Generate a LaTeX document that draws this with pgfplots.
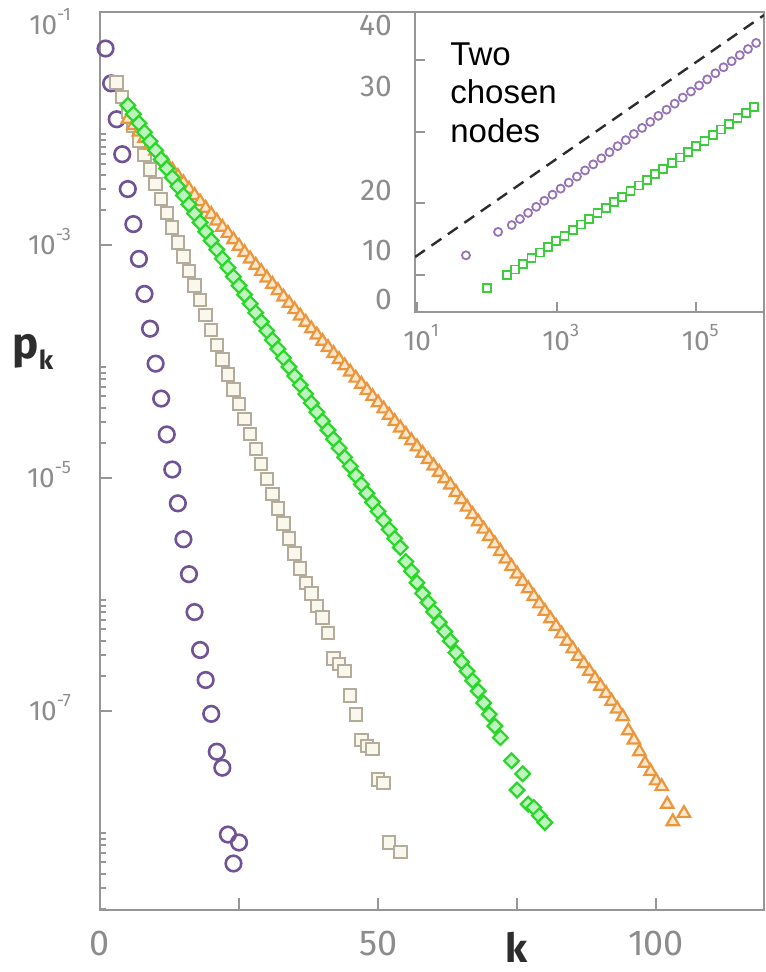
\documentclass[border=0pt]{standalone}
\usepackage{pgfplots}
\pgfplotsset{compat=1.18}
\usepackage{fontspec}
\setmainfont{Liberation Sans}
\newfontfamily\tickfont{Fira Sans}
\definecolor{axgray}{RGB}{150,150,150}
\definecolor{lblgray}{RGB}{140,140,140}
\definecolor{labdark}{RGB}{45,45,45}
\definecolor{cpurple}{RGB}{112,82,150}
\definecolor{ctan}{RGB}{180,172,155}
\definecolor{ctanfill}{RGB}{250,248,236}
\definecolor{cgreen}{RGB}{40,215,40}
\definecolor{cgreenfill}{RGB}{190,245,190}
\definecolor{corange}{RGB}{235,150,60}
\definecolor{corangefill}{RGB}{252,232,205}
\definecolor{ipurple}{RGB}{150,115,180}
\definecolor{igreen}{RGB}{60,205,60}
\newcommand\tsup[1]{\raisebox{0.5em}{\fontsize{9}{9}\selectfont #1}}
\begin{document}
\begin{tikzpicture}
\path[use as bounding box] (0,0) rectangle (382.5pt,486pt);
% ---------------- main axis ----------------
\begin{axis}[
  at={(50pt,31pt)}, anchor=south west, scale only axis,
  width=332pt, height=449pt,
  xmin=0, xmax=119.4, ymode=log, ymin=1.95e-9, ymax=0.1,
  clip=false,
  axis line style={axgray, line width=1.2pt},
  tick style={axgray, line width=1pt},
  major tick length=6pt, minor tick length=3pt,
  xtick pos=bottom, ytick pos=left,
  xtick={0,25,50,75,100}, xticklabels={0,,50,,100},
  ytick={1e-7,1e-5,1e-3},
  yticklabels={10\tsup{-7},10\tsup{-5},10\tsup{-3}},
  extra y ticks={0.1}, extra y tick labels={10\tsup{-1}},
  extra y tick style={yticklabel style={yshift=-6.5pt}},
  minor ytick={2e-9,3e-9,4e-9,5e-9,6e-9,7e-9,8e-9,9e-9,
    2e-7,3e-7,4e-7,5e-7,6e-7,7e-7,8e-7,9e-7,
    2e-5,3e-5,4e-5,5e-5,6e-5,7e-5,8e-5,9e-5,
    2e-3,3e-3,4e-3,5e-3,6e-3,7e-3,8e-3,9e-3},
  yticklabel style={font=\tickfont\fontsize{14}{16}\selectfont, text=lblgray, xshift=-11pt, yshift=1.5pt},
  xticklabel style={font=\tickfont\fontsize{18}{20}\selectfont, text=lblgray, yshift=-7pt},
]
\addplot[only marks, mark=o, cpurple, mark size=3.9pt, line width=1.3pt] coordinates {
(1,4.86e-2)(2,2.44e-2)(3,1.20e-2)(4,6.01e-3)(5,3.02e-3)(6,1.51e-3)(7,7.59e-4)(8,3.80e-4)(9,1.91e-4)(10,9.57e-5)(11,4.80e-5)(12,2.36e-5)(13,1.18e-5)(14,6.05e-6)(15,2.97e-6)(16,1.49e-6)(17,7.05e-7)(18,3.33e-7)(19,1.84e-7)(20,9.42e-8)(21,4.46e-8)(22,3.25e-8)(23,8.67e-9)(24,4.89e-9)(25,7.41e-9)};
\addplot[only marks, mark=square*, ctan, mark size=3.1pt, line width=1pt, mark options={fill=ctanfill}] coordinates {
(3,2.48e-2)(4,1.86e-2)(5,1.40e-2)(6,1.05e-2)(7,7.87e-3)(8,5.90e-3)(9,4.43e-3)(10,3.33e-3)(11,2.49e-3)(12,1.87e-3)(13,1.41e-3)(14,1.05e-3)(15,7.93e-4)(16,5.94e-4)(17,4.47e-4)(18,3.35e-4)(19,2.51e-4)(20,1.87e-4)(21,1.39e-4)(22,1.04e-4)(23,7.73e-5)(24,5.75e-5)(25,4.29e-5)(26,3.19e-5)(27,2.38e-5)(28,1.77e-5)(29,1.32e-5)(30,9.82e-6)(31,7.31e-6)(32,5.44e-6)(33,4.06e-6)(34,3.02e-6)(35,2.25e-6)(36,1.67e-6)(37,1.25e-6)(38,1.02e-6)(39,7.94e-7)(40,6.31e-7)(41,4.68e-7)(42,2.82e-7)(43,2.51e-7)(44,2.19e-7)(45,1.35e-7)(46,9.33e-8)(47,5.62e-8)(48,5.01e-8)(49,4.68e-8)(50,2.57e-8)(51,2.40e-8)(52,7.41e-9)(54,6.17e-9)};
\addplot[only marks, mark=triangle*, corange, mark size=3.6pt, line width=1.1pt, mark options={fill=corangefill}] coordinates {
(5,1.20e-2)(6,1.06e-2)(7,9.35e-3)(8,8.25e-3)(9,7.28e-3)(10,6.42e-3)(11,5.66e-3)(12,4.99e-3)(13,4.41e-3)(14,3.89e-3)(15,3.43e-3)(16,3.02e-3)(17,2.67e-3)(18,2.35e-3)(19,2.07e-3)(20,1.83e-3)(21,1.61e-3)(22,1.42e-3)(23,1.26e-3)(24,1.11e-3)(25,9.77e-4)(26,8.62e-4)(27,7.60e-4)(28,6.71e-4)(29,5.92e-4)(30,5.22e-4)(31,4.60e-4)(32,4.06e-4)(33,3.58e-4)(34,3.16e-4)(35,2.79e-4)(36,2.46e-4)(37,2.17e-4)(38,1.91e-4)(39,1.69e-4)(40,1.49e-4)(41,1.32e-4)(42,1.17e-4)(43,1.04e-4)(44,9.18e-5)(45,8.13e-5)(46,7.20e-5)(47,6.38e-5)(48,5.65e-5)(49,5.00e-5)(50,4.43e-5)(51,3.92e-5)(52,3.46e-5)(53,3.05e-5)(54,2.69e-5)(55,2.37e-5)(56,2.09e-5)(57,1.85e-5)(58,1.63e-5)(59,1.44e-5)(60,1.27e-5)(61,1.12e-5)(62,9.86e-6)(63,8.69e-6)(64,7.52e-6)(65,6.50e-6)(66,5.62e-6)(67,4.86e-6)(68,4.21e-6)(69,3.64e-6)(70,3.15e-6)(71,2.72e-6)(72,2.34e-6)(73,2.02e-6)(74,1.74e-6)(75,1.50e-6)(76,1.29e-6)(77,1.12e-6)(78,9.62e-7)(79,8.30e-7)(80,7.16e-7)(81,6.18e-7)(82,5.32e-7)(83,4.59e-7)(84,3.96e-7)(85,3.41e-7)(86,2.94e-7)(87,2.54e-7)(88,2.19e-7)(89,1.89e-7)(90,1.63e-7)(91,1.41e-7)(92,1.21e-7)(93,1.04e-7)(94,8.91e-8)(95,6.76e-8)(96,5.62e-8)(97,4.47e-8)(98,3.55e-8)(99,3.02e-8)(100,2.51e-8)(101,2.24e-8)(102,1.58e-8)(103,1.12e-8)(105,1.32e-8)};
\addplot[only marks, mark=square*, cgreen, mark size=2.6pt, line width=1.1pt, mark options={rotate=45, fill=cgreenfill}] coordinates {
(5,1.58e-2)(6,1.33e-2)(7,1.11e-2)(8,9.28e-3)(9,7.76e-3)(10,6.49e-3)(11,5.43e-3)(12,4.54e-3)(13,3.80e-3)(14,3.18e-3)(15,2.66e-3)(16,2.23e-3)(17,1.86e-3)(18,1.56e-3)(19,1.30e-3)(20,1.09e-3)(21,9.12e-4)(22,7.63e-4)(23,6.38e-4)(24,5.34e-4)(25,4.47e-4)(26,3.74e-4)(27,3.13e-4)(28,2.62e-4)(29,2.19e-4)(30,1.83e-4)(31,1.53e-4)(32,1.28e-4)(33,1.07e-4)(34,8.96e-5)(35,7.50e-5)(36,6.27e-5)(37,5.25e-5)(38,4.39e-5)(39,3.67e-5)(40,3.07e-5)(41,2.57e-5)(42,2.15e-5)(43,1.80e-5)(44,1.50e-5)(45,1.26e-5)(46,1.05e-5)(47,8.81e-6)(48,7.37e-6)(49,6.17e-6)(50,5.16e-6)(51,4.32e-6)(52,3.61e-6)(53,3.02e-6)(54,2.53e-6)(55,1.91e-6)(56,1.58e-6)(57,1.26e-6)(58,1.02e-6)(59,8.51e-7)(60,7.08e-7)(61,5.75e-7)(62,4.79e-7)(63,3.98e-7)(64,3.16e-7)(65,2.63e-7)(66,2.19e-7)(67,1.82e-7)(68,1.48e-7)(69,1.17e-7)(70,9.33e-8)(71,7.41e-8)(72,5.89e-8)(74,3.72e-8)(75,2.09e-8)(76,2.88e-8)(77,1.58e-8)(78,1.48e-8)(79,1.26e-8)(80,1.10e-8)};
\node[font=\tickfont\bfseries\fontsize{20}{22}\selectfont, text=labdark, anchor=center, inner sep=0pt] at (axis description cs:0.628,0) [yshift=-18.5pt] {k};
\node[font=\tickfont\bfseries\fontsize{22}{24}\selectfont, text=labdark, anchor=center] at (axis description cs:-0.101,0.621) {p\raisebox{-0.25em}{\fontsize{13}{13}\selectfont k}};
\end{axis}
% ---------------- inset ----------------
\begin{axis}[
  at={(207.5pt,330pt)}, anchor=south west, scale only axis,
  width=174.5pt, height=150pt,
  xmode=log, xmin=9.33, xmax=9.33e5, ymin=-1.745, ymax=41.9,
  axis background/.style={fill=white},
  axis line style={axgray, line width=1.2pt},
  tick style={axgray, line width=1pt},
  major tick length=5pt,
  xtick pos=bottom, ytick pos=left,
  xtick={10,1000,100000}, xticklabels={10\tsup{1},10\tsup{3},10\tsup{5}},
  minor xtick={},
  ytick={3.64,14.1,24.4,34.9}, yticklabels={},
  extra y ticks={0,7.27,16,31,40}, extra y tick labels={0,10,20,30,40},
  extra y tick style={major tick length=0pt},
  xticklabel style={font=\tickfont\fontsize{14}{16}\selectfont, text=lblgray, yshift=-2.5pt, xshift=2pt},
  yticklabel style={font=\tickfont\fontsize{15}{17}\selectfont, text=lblgray, xshift=-8pt},
]
\addplot[labdark, dash pattern=on 6pt off 4pt, line width=1.2pt] coordinates {(9.33,6.25)(9.33e5,41.45)};
\addplot[only marks, mark=o, ipurple, mark size=2pt, line width=0.9pt] coordinates {
(50.1,6.5)(144.5,9.9)(227,10.90)(297,11.78)(389,12.67)(508,13.55)(665,14.43)(871,15.32)(1138,16.20)(1489,17.08)(1950,17.96)(2547,18.85)(3334,19.73)(4365,20.61)(5702,21.50)(7464,22.38)(9772,23.26)(12764,24.15)(16711,25.03)(21878,25.91)(28576,26.79)(37411,27.68)(48978,28.56)(63973,29.44)(83753,30.33)(109648,31.21)(143219,32.09)(187499,32.98)(245471,33.86)(320627,34.74)(419759,35.62)(549541,36.51)(719449,37.39)};
\addplot[only marks, mark=square, igreen, mark size=2pt, line width=0.9pt] coordinates {
(100,1.75)(192.3,3.64)(252.4,4.45)(331.1,5.27)(434.5,6.08)(570.2,6.90)(749.9,7.71)(984,8.53)(1291,9.34)(1694,10.15)(2223,10.97)(2917,11.78)(3828,12.60)(5023,13.41)(6592,14.23)(8650,15.04)(11376,15.85)(14928,16.67)(19588,17.48)(25704,18.30)(33729,19.11)(44259,19.93)(58076,20.74)(76208,21.55)(100000,22.37)(131220,23.18)(172584,24.00)(226464,24.81)(297167,25.63)(389942,26.44)(511682,27.25)(671429,28.07)};
\node[font=\fontsize{16.5}{19.25}\selectfont, anchor=north west, align=left, inner sep=0pt] at (axis description cs:0.1,0.9) {Two\\chosen\\nodes};
\node[font=\tickfont\bfseries\fontsize{16}{18}\selectfont, text=labdark, anchor=center] at (axis description cs:0.636,0) [yshift=-16.5pt] {t};
\node[font=\tickfont\bfseries\fontsize{16}{18}\selectfont, text=labdark, anchor=center] at (axis description cs:-0.1375,0.563) {k\raisebox{-0.3em}{\fontsize{9}{9}\selectfont i}(t)};
\end{axis}
\end{tikzpicture}
\end{document}
